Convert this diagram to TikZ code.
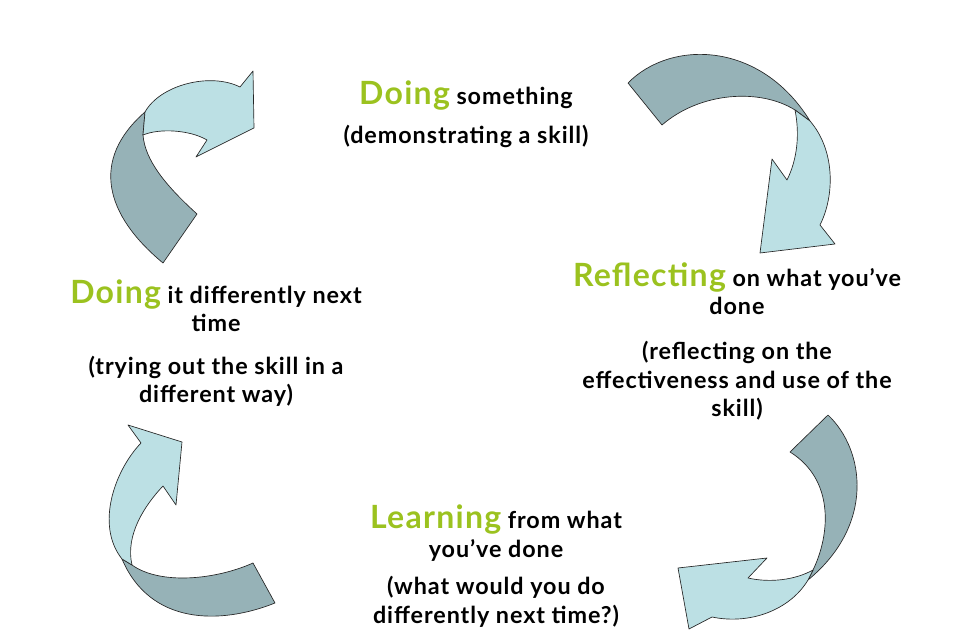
\documentclass[tikz,border=0pt]{standalone}
\usepackage{fontspec}
\setmainfont{Lato}[LetterSpace=4]
\usepackage{tikz}
\usetikzlibrary{positioning}
\definecolor{vert}{RGB}{155,194,31}
\definecolor{dos}{RGB}{150,178,183}
\definecolor{face}{RGB}{188,224,228}
\tikzstyle{dessous}=[fill=dos, draw=black!85, line width=0.5pt, line join=round]
\tikzstyle{dessus}=[fill=face, draw=black!85, line width=0.5pt, line join=round]
\tikzstyle{titre}=[font=\bfseries\fontsize{17.5}{21.5}\selectfont, align=center, inner sep=0pt, anchor=base]
\newcommand{\mot}[1]{{\color{vert}\fontsize{24}{21.5}\selectfont #1}}

\begin{document}
\begin{tikzpicture}[x=0.75pt,y=-0.75pt]

\useasboundingbox (0,0) rectangle (960,630);

% fleche haut gauche
\draw[dessous] (145,112) .. controls (90,160) and (105,215) .. (163,263) -- (197,214)
  .. controls (165,185) and (145,160) .. (143,135) -- cycle;
\draw[dessus] (145,112) .. controls (160,85) and (210,72) .. (240,87) -- (253,71) -- (254,128)
  -- (196,157) -- (207,140) .. controls (190,130) and (160,128) .. (143,135) -- cycle;

% fleche haut droite
\draw[dessous] (628,83) .. controls (670,40) and (760,40) .. (810,121) -- (795,110)
  .. controls (760,88) and (700,92) .. (662,125) -- cycle;
\draw[dessus] (795,110) .. controls (800,135) and (797,160) .. (787,180) -- (772,159) -- (760,253)
  -- (835,244) -- (820,225) .. controls (835,195) and (835,150) .. (810,121) -- cycle;

% fleche bas droite
\draw[dessous] (790,452) -- (828,415) .. controls (865,450) and (875,525) .. (808,580) -- (813,570)
  .. controls (830,535) and (835,480) .. (790,452) -- cycle;
\draw[dessus] (813,570) .. controls (795,580) and (770,583) .. (748,578) -- (767,558) -- (678,568)
  -- (689,629) -- (712,617) .. controls (750,625) and (790,610) .. (808,580) -- cycle;

% fleche bas gauche
\draw[dessous] (122,559) -- (132,565) .. controls (160,585) and (215,580) .. (253,563) -- (275,603)
  .. controls (220,625) and (150,625) .. (122,559) -- cycle;
\draw[dessus] (128,425) -- (182,442) -- (176,505) -- (163,486) .. controls (145,505) and (125,535) .. (132,565)
  -- (122,559) .. controls (95,525) and (115,470) .. (141,443) -- cycle;

% texte
\node[titre] (faire) at (466,105) {\mot{Doing} something};
\node[titre] (fairenote) at (466,144) {(demonstrating a skill)};

\node[titre] (reflechir) at (737,315) {\mot{Reflecting} on what you’ve\\done};
\node[titre] (reflechirnote) at (737,417) {(reflecting on the\\effectiveness and use of the\\skill)};

\node[titre] (apprendre) at (496,557) {\mot{Learning} from what\\you’ve done};
\node[titre] (apprendrenote) at (496,623) {(what would you do\\differently next time?)};

\node[titre] (refaire) at (216,332) {\mot{Doing} it differently next\\time};
\node[titre] (refairenote) at (216,403) {(trying out the skill in a\\different way)};

\end{tikzpicture}
\end{document}
